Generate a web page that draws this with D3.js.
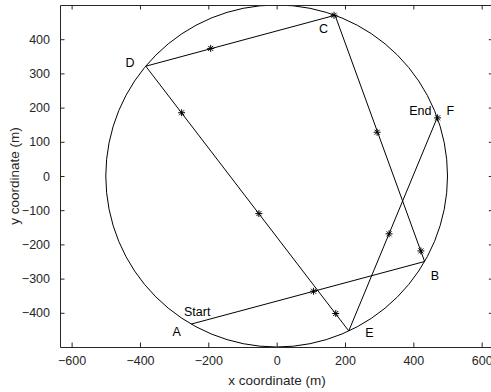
<!DOCTYPE html>
<html>
<head>
<meta charset="utf-8">
<script src="https://cdn.jsdelivr.net/npm/d3@7"></script>
<style>
  body { margin: 0; background: #fff; }
  text { font-family: "Liberation Sans", Arial, Helvetica, sans-serif; }
</style>
</head>
<body>
<div class="chart"></div>
<script>
var svgWidth = 491;
var svgHeight = 392;

// path vertices (m)
var pathNames = ["A", "B", "C", "D", "E", "F"];
var pathX = [-250, 433, 171, -383, 211, 470];
var pathY = [-433, -250, 470, 321, -453, 171];

// star markers (m)
var starX = [108, 422, 294, 168, -193, -278, -52, 173, 329, 471];
var starY = [-337, -219, 128, 470, 373, 185, -110, -402, -169, 170];

// text annotations (data coords of left edge / middle)
var noteText = ["A", "B", "C", "D", "E", "F", "Start", "End"];
var noteX = [-305, 451, 124, -442, 259, 497, -271, 388];
var noteY = [-456, -291, 431, 331, -458, 192, -398, 190];

var circleRadius = 500;

var xTicks = [-600, -400, -200, 0, 200, 400, 600];
var yTicks = [-400, -300, -200, -100, 0, 100, 200, 300, 400];

var margin = { top: 5, left: 60 };
var width = 433.3;
var height = 342;
var axisColor = "#262626";

var svg = d3.select(".chart")
  .append("svg")
  .attr("width", svgWidth)
  .attr("height", svgHeight);

var chartGroup = svg.append("g")
  .attr("transform", `translate(${margin.left}, ${margin.top})`);

var x = d3.scaleLinear().domain([-634, 634]).range([0, width]);
var y = d3.scaleLinear().domain([-500, 500]).range([height, 0]);

// clip to axes box
svg.append("defs").append("clipPath").attr("id", "box")
  .append("rect").attr("width", width).attr("height", height);

var plot = chartGroup.append("g").attr("clip-path", "url(#box)");

// circle
plot.append("ellipse")
  .attr("cx", x(0))
  .attr("cy", y(0))
  .attr("rx", x(circleRadius) - x(0))
  .attr("ry", y(0) - y(circleRadius))
  .attr("fill", "none")
  .attr("stroke", "#000")
  .attr("stroke-width", 1);

// path
var pts = pathX.map(function(d, i) { return [d, pathY[i]]; });
plot.append("path")
  .datum(pts)
  .attr("d", d3.line().x(function(d) { return x(d[0]); }).y(function(d) { return y(d[1]); }))
  .attr("fill", "none")
  .attr("stroke", "#000")
  .attr("stroke-width", 1);

// star markers
var star = plot.selectAll(".star")
  .data(starX.map(function(d, i) { return [d, starY[i]]; }))
  .enter().append("path")
  .attr("class", "star")
  .attr("transform", function(d) { return `translate(${x(d[0])}, ${y(d[1])})`; })
  .attr("d", "M-3.5,0H3.5M0,-3.5V3.5M-2.5,-2.5L2.5,2.5M-2.5,2.5L2.5,-2.5")
  .attr("stroke", "#000")
  .attr("stroke-width", 1);

// annotations
chartGroup.selectAll(".note")
  .data(noteText)
  .enter().append("text")
  .attr("class", "note")
  .attr("x", function(d, i) { return x(noteX[i]); })
  .attr("y", function(d, i) { return y(noteY[i]); })
  .attr("dy", "0.35em")
  .attr("font-size", "12.5px")
  .attr("fill", "#000")
  .text(function(d) { return d; });

// axes box
var tickLen = 4.5;
chartGroup.append("g")
  .attr("transform", `translate(0, ${height})`)
  .call(d3.axisBottom(x).tickValues(xTicks).tickSizeInner(-tickLen).tickSizeOuter(0).tickPadding(9))
  .call(function(g) { g.select(".domain").attr("stroke", axisColor); });

chartGroup.append("g")
  .call(d3.axisTop(x).tickValues(xTicks).tickSizeInner(-tickLen).tickSizeOuter(0).tickFormat(""))
  .call(function(g) { g.select(".domain").attr("stroke", axisColor); });

chartGroup.append("g")
  .call(d3.axisLeft(y).tickValues(yTicks).tickSizeInner(-tickLen).tickSizeOuter(0).tickPadding(10))
  .call(function(g) { g.select(".domain").attr("stroke", axisColor); });

chartGroup.append("g")
  .attr("transform", `translate(${width}, 0)`)
  .call(d3.axisRight(y).tickValues(yTicks).tickSizeInner(-tickLen).tickSizeOuter(0).tickFormat(""))
  .call(function(g) { g.select(".domain").attr("stroke", axisColor); });

chartGroup.selectAll(".tick line").attr("stroke", axisColor);
chartGroup.selectAll(".tick text")
  .attr("fill", axisColor)
  .attr("font-size", "12.5px")
  .attr("font-family", "Liberation Sans, Arial, sans-serif");

// Create axes labels
svg.append("text")
  .attr("transform", "rotate(-90)")
  .attr("y", 19)
  .attr("x", -176)
  .attr("text-anchor", "middle")
  .attr("font-size", "13.5px")
  .attr("fill", axisColor)
  .text("y coordinate (m)");

svg.append("text")
  .attr("x", 277)
  .attr("y", 385)
  .attr("text-anchor", "middle")
  .attr("font-size", "13.5px")
  .attr("fill", axisColor)
  .text("x coordinate (m)");
</script>
</body>
</html>
